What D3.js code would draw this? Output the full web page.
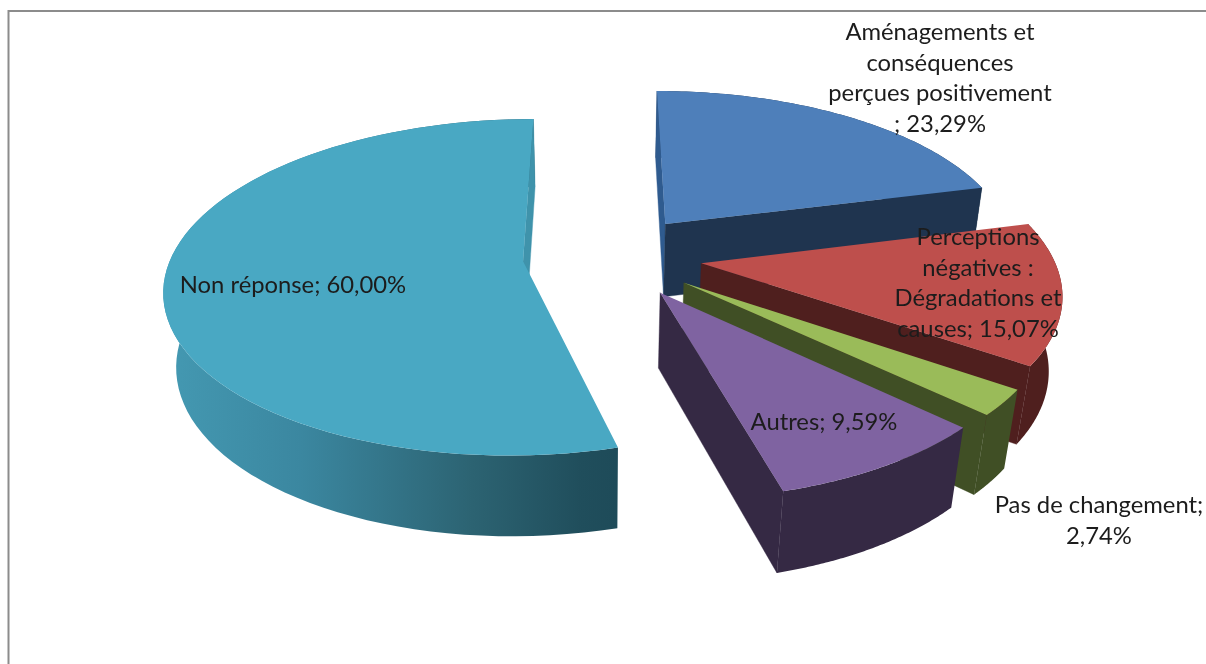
<!DOCTYPE html>
<html lang="fr">
<head>
<meta charset="utf-8">
<script src="https://cdn.jsdelivr.net/npm/d3@7/dist/d3.min.js"></script>
<style>
html,body{margin:0;padding:0;background:#fff;overflow:hidden}
svg{display:block;filter:blur(0.45px)}
text{font-family:Lato,"Open Sans",sans-serif;font-size:23.8px;fill:#1c1c1c;text-anchor:middle}
</style>
</head>
<body>
<svg id="chart" width="1206" height="664"></svg>
<script>
// Data
const categories = [
  "Aménagements et conséquences perçues positivement",
  "Perceptions négatives : Dégradations et causes",
  "Pas de changement",
  "Autres",
  "Non réponse"
];
const values = [23.29, 15.07, 2.74, 9.59, 60.00];
const labelLines = [
  ["Aménagements et", "conséquences", "perçues positivement", "; 23,29%"],
  ["Perceptions", "négatives :", "Dégradations et", "causes; 15,07%"],
  ["Pas de changement;", "2,74%"],
  ["Autres; 9,59%"],
  ["Non réponse; 60,00%"]
];

// Styles
const topColors   = ["#4e7fba", "#be4f4c", "#9abb59", "#7f63a1", "#49a8c3"];
const outerColors = ["#1f344f", "#4f1f1e", "#404f25", "#352944", "url(#tealWall)"];
const startWalls  = ["#2f5b8f", "#4f1f1e", "#404f25", "#352944", "#3f93ab"];
const endWalls    = ["#1f344f", "#4f1f1e", "#404f25", "#352944", "#3f93ab"];

// Layout: label centres, and the 3D camera of the pie
const labelCentres = [[940, 31], [978, 236], [1099, 504], [824, 421], [293, 284]];
const lineHeight = 30.7;
const explode = 0.255;
const camera = {ox: 600.5, oy: 275, a: 358, b: 168.5, c: 77, k: 0.1567, m: 0.03, dx: 0.0336, dy: 0.1162};

const svg = d3.select("#chart");

// Frame
const frame = svg.append("g").attr("fill", "none").attr("stroke", "#8c8c8c").attr("stroke-width", 2);
frame.append("path").attr("d", d3.line()([[8.5, 664], [8.5, 11], [1206, 11]]));

const defs = svg.append("defs");
const grad = defs.append("linearGradient").attr("id", "tealWall")
  .attr("gradientUnits", "userSpaceOnUse").attr("x1", 165).attr("x2", 617).attr("y1", 0).attr("y2", 0);
[[0, "#4499b2"], [0.3, "#3b87a0"], [0.68, "#2c6372"], [0.92, "#204e5c"], [1, "#1e4b59"]]
  .forEach(([o, c]) => grad.append("stop").attr("offset", o).attr("stop-color", c));

// Perspective projection of a point of the pie: X right, Y away from viewer, Z down (0 top, 1 bottom)
function project(X, Y, Z) {
  const x = X + camera.dx, y = Y + camera.dy;
  const w = 1 + camera.k * y + camera.m * Z;
  return [camera.ox + camera.a * x / w, camera.oy + (-camera.b * y + camera.c * Z) / w];
}

const pie = d3.pie().sort(null).startAngle(0).endAngle(2 * Math.PI);
const arcs = pie(values);
const line = d3.line();

function closed(points) { return line(points) + "Z"; }
function cross(o, p, q) { return (p[0] - o[0]) * (q[1] - o[1]) - (p[1] - o[1]) * (q[0] - o[0]); }

const g = svg.append("g").attr("shape-rendering", "geometricPrecision");

arcs.forEach((d, i) => {
  const mid = (d.startAngle + d.endAngle) / 2;
  const ax = explode * Math.sin(mid), ay = explode * Math.cos(mid);
  const rim = (t, z) => project(ax + Math.sin(t), ay + Math.cos(t), z);
  const steps = d3.range(0, 81).map(j => d.startAngle + (d.endAngle - d.startAngle) * j / 80);
  const apex = z => project(ax, ay, z);
  const slice = g.append("g").attr("class", "slice").attr("data-category", categories[i]);

  // outer wall
  const top = steps.map(t => rim(t, 0));
  const bottom = steps.map(t => rim(t, 1)).reverse();
  slice.append("path")
    .attr("d", closed(top.concat(bottom)))
    .attr("fill", outerColors[i]);

  // radial walls: only those turned towards the viewer
  [[d.startAngle, startWalls[i], 0.02], [d.endAngle, endWalls[i], -0.02]].forEach(([t, col, inward]) => {
    const p0 = rim(t, 0), p1 = rim(t, 1), a0 = apex(0);
    const inner = rim(t + inward, 0);
    const drop = [a0[0] + p1[0] - p0[0], a0[1] + p1[1] - p0[1]];
    if (cross(a0, p0, inner) * cross(a0, p0, drop) > 0) return;
    slice.append("path")
      .attr("d", closed([a0, p0, p1, apex(1)]))
      .attr("fill", col).attr("stroke", col).attr("stroke-width", 0.4);
  });

  // top face
  slice.append("path")
    .attr("d", closed([apex(0)].concat(top)))
    .attr("fill", topColors[i]);
});

// Labels (above all slices)
const labels = svg.append("g");
labelLines.forEach((lines, i) => {
  const [cx, cy] = labelCentres[i];
  const t = labels.append("text").attr("x", cx).attr("y", cy).attr("dominant-baseline", "central");
  lines.forEach((s, j) => {
    t.append("tspan").attr("x", cx).attr("y", cy + j * lineHeight).text(s);
  });
});
</script>
</body>
</html>
